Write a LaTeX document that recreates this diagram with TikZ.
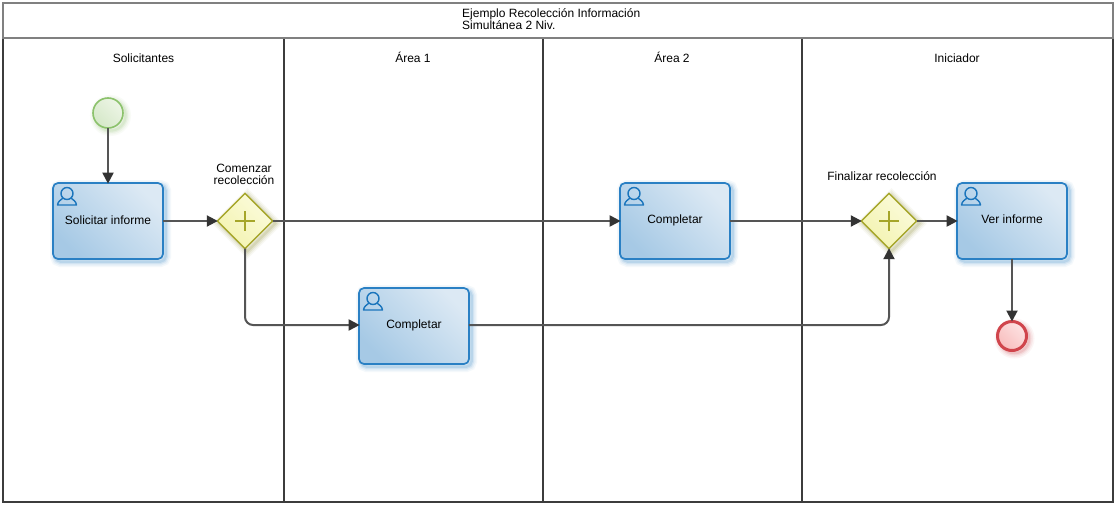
\documentclass[tikz,border=0pt]{standalone}
\usepackage{fontspec}
\setmainfont{Liberation Sans}
\usetikzlibrary{shapes.geometric,arrows.meta}
\definecolor{flow}{HTML}{555555}
\definecolor{tipc}{HTML}{333333}
\definecolor{lanec}{HTML}{3C3C3C}
\definecolor{headc}{HTML}{808080}
\tikzset{
  softshadow/.style={
    preaction={draw=#1,opacity=.05,line width=11pt,transform canvas={shift={(2.5pt,-2.5pt)}}},
    preaction={draw=#1,opacity=.07,line width=8pt,transform canvas={shift={(2.5pt,-2.5pt)}}},
    preaction={draw=#1,opacity=.10,line width=5pt,transform canvas={shift={(2.5pt,-2.5pt)}}},
    preaction={draw=#1,opacity=.14,line width=2.5pt,transform canvas={shift={(2.5pt,-2.5pt)}}}},
  taskbox/.style={rectangle,rounded corners=5pt,minimum width=110pt,minimum height=76pt,inner sep=0pt,
    draw=taskline,line width=1.7pt,shading=axis,left color=taskA,right color=taskB,shading angle=135,softshadow=taskline},
  gate/.style={diamond,aspect=1,minimum width=56pt,minimum height=56pt,inner sep=0pt,
    draw=gateline,line width=1.4pt,shading=axis,left color=gateA,right color=gateB,shading angle=135,softshadow=gateline!80!black},
  startev/.style={circle,minimum size=30pt,inner sep=0pt,draw=startline,line width=1.6pt,
    shading=axis,left color=startA,right color=startB,shading angle=135,softshadow=startline},
  endev/.style={circle,minimum size=29pt,inner sep=0pt,draw=endline,line width=3pt,
    shading=axis,left color=endA,right color=endB,shading angle=135,softshadow=endline},
  flowline/.style={draw=flow,line width=2pt,rounded corners=8pt,shorten >=-1.5pt,shorten <=-1pt,
    -{Triangle[length=11pt,width=11pt,fill=tipc,color=tipc]}},
  lbl/.style={font=\fontsize{12}{12}\selectfont,text=black,inner sep=0pt,align=center},
  userpath/.style={draw=taskicon,line width=1.4pt,fill=none},
  plusmark/.style={draw=gateline,line width=1.4pt},
  headline/.style={draw=headc,line width=2pt},
  laneline/.style={draw=lanec,line width=2pt}
}
\definecolor{taskline}{HTML}{2A80C4}
\definecolor{taskicon}{HTML}{1B75BC}
\definecolor{taskA}{HTML}{A6C9E5}
\definecolor{taskB}{HTML}{DCE9F4}
\definecolor{gateline}{HTML}{A6A62A}
\definecolor{gateA}{HTML}{F3F3B0}
\definecolor{gateB}{HTML}{FBFBDC}
\definecolor{startline}{HTML}{8CC26C}
\definecolor{startA}{HTML}{D5E8C8}
\definecolor{startB}{HTML}{EDF5E6}
\definecolor{endline}{HTML}{D0454C}
\definecolor{endA}{HTML}{F8BDBD}
\definecolor{endB}{HTML}{FDE3E3}
\newcommand{\usericon}[2]{%
  \draw[userpath] (#1,#2-2.5) circle (6pt);
  \draw[userpath,line join=round] (#1-4,#2+2) .. controls (#1-6,#2+4) and (#1-9,#2+5) .. (#1-9.5,#2+9)
     -- (#1+9.5,#2+9) .. controls (#1+9,#2+5) and (#1+6,#2+4) .. (#1+4,#2+2);}
\begin{document}
\begin{tikzpicture}[x=1pt,y=-1pt]
\useasboundingbox[fill=white] (0,0) rectangle (1117,509);
% pool
\draw[laneline] (3,38) -- (3,502) -- (1113,502) -- (1113,38);
\draw[laneline] (284,38) -- (284,502);
\draw[laneline] (543,38) -- (543,502);
\draw[laneline] (802,38) -- (802,502);
\draw[headline] (3,38) -- (3,3) -- (1113,3) -- (1113,38) -- cycle;
% titles
\node[lbl,align=left,anchor=north west] (title) at (462,8.5) {Ejemplo Recolección Información\\Simultánea 2 Niv.};
\node[lbl] (lane1) at (143.5,58) {Solicitantes};
\node[lbl] (lane2) at (413,57) {Área 1};
\node[lbl] (lane3) at (672,57) {Área 2};
\node[lbl] (lane4) at (957,58) {Iniciador};
% flow nodes
\node[startev] (start) at (108,113) {};
\node[taskbox] (t1) at (108,221) {};
\node[lbl] (t1l) at (108,220) {Solicitar informe};
\node[gate] (g1) at (245,221) {};
\node[lbl] (g1l) at (244,174) {Comenzar\\recolección};
\node[taskbox] (t2) at (414,326) {};
\node[lbl] (t2l) at (414,325) {Completar};
\node[taskbox] (t3) at (675,221) {};
\node[lbl] (t3l) at (675,220) {Completar};
\node[gate] (g2) at (889,221) {};
\node[lbl] (g2l) at (882,176.5) {Finalizar recolección};
\node[taskbox] (t4) at (1012,221) {};
\node[lbl] (t4l) at (1012,219.5) {Ver informe};
\node[endev] (stop) at (1012,336) {};
% icons
\usericon{67}{196}
\usericon{373}{301}
\usericon{634}{196}
\usericon{971}{196}
\draw[plusmark] (235,221) -- (255,221) (245,211) -- (245,231);
\draw[plusmark] (879,221) -- (899,221) (889,211) -- (889,231);
% connectors
\draw[flowline] (start) -- (t1);
\draw[flowline] (t1) -- (g1);
\draw[flowline] (g1) -- (t3);
\draw[flowline] (g1.south) |- ([yshift=1pt]t2.west);
\draw[flowline] ([yshift=1pt]t2.east) -| (g2.south);
\draw[flowline] (t3) -- (g2);
\draw[flowline] (g2) -- (t4);
\draw[flowline] (t4) -- (stop);
\end{tikzpicture}
\end{document}
